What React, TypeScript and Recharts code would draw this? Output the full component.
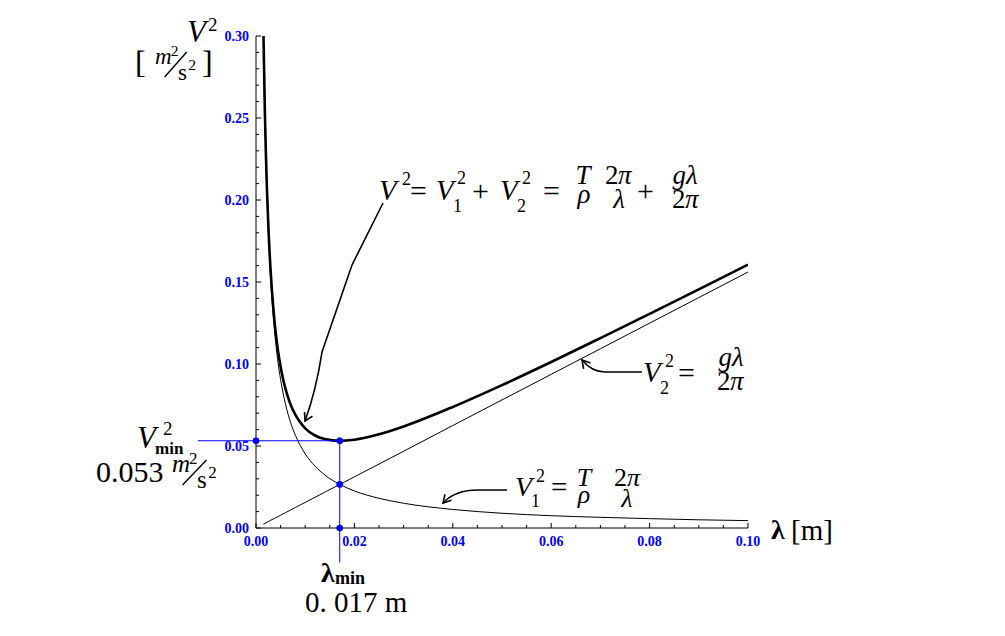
import React from 'react';
import {
  LineChart,
  Line,
  XAxis,
  YAxis,
  ReferenceLine,
  ReferenceDot,
  Customized,
} from 'recharts';

// wavelength samples [m]
const lambda = [
  0.0015, 0.0018, 0.002, 0.0025, 0.003, 0.0035, 0.004, 0.0045, 0.005, 0.0055, 0.006, 0.007,
  0.008, 0.009, 0.01, 0.012, 0.014, 0.017, 0.02, 0.025, 0.03, 0.04, 0.05, 0.06, 0.07, 0.08,
  0.09, 0.1,
];
// capillary part V1^2 [m^2/s^2]
const v1Sq = [
  0.3016, 0.2513, 0.2262, 0.181, 0.1508, 0.1293, 0.1131, 0.1005, 0.0905, 0.0823, 0.0754,
  0.0646, 0.0566, 0.0503, 0.0452, 0.0377, 0.0323, 0.0266, 0.0226, 0.0181, 0.0151, 0.0113,
  0.009, 0.0075, 0.0065, 0.0057, 0.005, 0.0045,
];
// gravity part V2^2
const v2Sq = [
  0.0023, 0.0028, 0.0031, 0.0039, 0.0047, 0.0055, 0.0062, 0.007, 0.0078, 0.0086, 0.0094,
  0.0109, 0.0125, 0.0141, 0.0156, 0.0187, 0.0219, 0.0265, 0.0312, 0.039, 0.0468, 0.0625,
  0.0781, 0.0937, 0.1093, 0.1249, 0.1405, 0.1561,
];
// total V^2
const vSq = [
  0.3039, 0.2541, 0.2293, 0.1849, 0.1555, 0.1348, 0.1193, 0.1075, 0.0983, 0.0909, 0.0848,
  0.0755, 0.0691, 0.0644, 0.0608, 0.0564, 0.0542, 0.0531, 0.0538, 0.0571, 0.0619, 0.0738,
  0.0871, 0.1012, 0.1158, 0.1306, 0.1455, 0.1606,
];

const xMajor = [0, 0.02, 0.04, 0.06, 0.08, 0.1];
const yMajor = [0, 0.05, 0.1, 0.15, 0.2, 0.25, 0.3];
const xMinorStep = 0.005;
const yMinorStep = 0.01;

const lamMin = 0.01702;
const vMin = 0.0532;
const vCross = 0.0266;

const rows = lambda.map((lam, i) => ({ lam, v1: v1Sq[i], v2: v2Sq[i], v: vSq[i] }));

const xTicks = Array.from({ length: 21 }, (_, i) => +(i * xMinorStep).toFixed(3));
const yTicks = Array.from({ length: 31 }, (_, i) => +(i * yMinorStep).toFixed(2));

const SERIF = '"Liberation Serif", "DejaVu Serif", serif';
const BLUE = '#0000ff';

// plot box, page pixels
const L = 256, R = 748, TOP = 36, BOT = 528;
const X_MAX = 0.1, Y_MAX = 0.3;
const px = (lam: number) => L + (lam / X_MAX) * (R - L);
const py = (v: number) => BOT - (v / Y_MAX) * (BOT - TOP);

const isIn = (list: number[], v: number) => list.some((m) => Math.abs(m - v) < 1e-6);

const XTick = (props: any) => {
  const { x, y, payload } = props;
  const major = isIn(xMajor, payload.value);
  return (
    <g>
      <line x1={x} x2={x} y1={y} y2={y - (major ? 5 : 3)} stroke="#000" />
      {major && (
        <text x={x} y={y + 18} textAnchor="middle" fill={BLUE} fontSize={14} fontWeight="bold" fontFamily={SERIF}>
          {payload.value.toFixed(2)}
        </text>
      )}
    </g>
  );
};

const YTick = (props: any) => {
  const { x, y, payload } = props;
  const major = isIn(yMajor, payload.value);
  return (
    <g>
      <line x1={x} x2={x + (major ? 5 : 3)} y1={y} y2={y} stroke="#000" />
      {major && (
        <text x={x - 7} y={y} dy="0.35em" textAnchor="end" fill={BLUE} fontSize={14} fontWeight="bold" fontFamily={SERIF}>
          {payload.value.toFixed(2)}
        </text>
      )}
    </g>
  );
};

// one formula = one <text>, each piece placed absolutely: [x, y, size, text, style?, anchor?]
// style: 'i' italic, 'b' bold
type Piece = [number, number, number, string, string?, string?];

const Formula = ({ parts }: { parts: Piece[] }) => (
  <text fontFamily={SERIF} fill="#000">
    {parts.map(([x, y, s, t, st = '', a = 'start'], k) => (
      <tspan
        key={k}
        x={x}
        y={y}
        fontSize={s}
        fontStyle={st.includes('i') ? 'italic' : 'normal'}
        fontWeight={st.includes('b') ? 'bold' : 'normal'}
        textAnchor={a}
      >
        {t}
      </tspan>
    ))}
  </text>
);

// pointer with a curved shaft ending in an open arrowhead; offsets are relative to the tip
const Arrow = ({ lam, v, shaft, barbs }: { lam: number; v: number; shaft: string; barbs: number[][] }) => (
  <g transform={`translate(${px(lam)},${py(v)})`} fill="none" stroke="#000" strokeWidth={1.6}>
    <path d={shaft} />
    <path d={`M${barbs[0][0]},${barbs[0][1]} L0,0 L${barbs[1][0]},${barbs[1][1]}`} />
  </g>
);

// m^2/s^2 with a slanted bar
const unitParts = (x: number, y: number, s: number): Piece[] => [
  [x, y - 10, s, 'm', 'i'],
  [x + s * 0.68, y - 18, s * 0.68, '2'],
  [x + s * 1.0, y + 6, s, 's'],
  [x + s * 1.45, y - 4, s * 0.68, '2'],
];
const UnitBar = ({ x, y, s }: { x: number; y: number; s: number }) => (
  <line x1={x + s * 0.42} y1={y + 3} x2={x + s * 1.38} y2={y - 22} stroke="#000" strokeWidth={1.4} />
);

const axisTitle: Piece[] = [
  [187, 42, 31, 'V', 'i'],
  [208, 31, 19, '2'],
  [135, 73, 32, '['],
  ...unitParts(155, 74, 23),
  [202, 73, 32, ']'],
];

const lambdaTitle: Piece[] = [
  [771, 539, 28, 'λ', 'b'],
  [791, 540, 29, '[m]'],
];

const totalFormula: Piece[] = [
  [379, 200, 29, 'V', 'i'],
  [402, 185, 18, '2'],
  [410, 201, 30, '='],
  [436, 200, 29, 'V', 'i'],
  [453, 212, 18, '1'],
  [457, 184, 18, '2'],
  [472, 201, 30, '+'],
  [500, 200, 29, 'V', 'i'],
  [517, 212, 18, '2'],
  [522, 184, 18, '2'],
  [543, 201, 30, '='],
  [583, 184, 27, 'T', 'i', 'middle'],
  [584, 203, 27, 'ρ', 'i', 'middle'],
  [605, 184, 27, '2'],
  [618, 184, 27, 'π', 'i'],
  [619, 208, 27, 'λ', 'i', 'middle'],
  [637, 201, 30, '+'],
  [685, 184, 27, 'gλ', 'i', 'middle'],
  [672, 208, 27, '2'],
  [685, 208, 27, 'π', 'i'],
];

const gravityFormula: Piece[] = [
  [643, 382, 29, 'V', 'i'],
  [660, 394, 18, '2'],
  [665, 367, 18, '2'],
  [678, 383, 30, '='],
  [731, 366, 27, 'gλ', 'i', 'middle'],
  [717, 390, 27, '2'],
  [730, 390, 27, 'π', 'i'],
];

const capillaryFormula: Piece[] = [
  [515, 496, 28, 'V', 'i'],
  [531, 507, 18, '1'],
  [536, 482, 18, '2'],
  [551, 497, 29, '='],
  [584, 486, 26, 'T', 'i', 'middle'],
  [584, 503, 26, 'ρ', 'i', 'middle'],
  [614, 486, 26, '2'],
  [627, 486, 26, 'π', 'i'],
  [627, 507, 26, 'λ', 'i', 'middle'],
];

const minSpeed: Piece[] = [
  [137, 448, 31, 'V', 'i'],
  [163, 435, 19, '2'],
  [155, 454, 17, 'min', 'b'],
  [96, 482, 30, '0.053'],
  ...unitParts(172, 482, 25),
];

const minLambda: Piece[] = [
  [321, 582, 28, 'λ', 'b'],
  [335, 584, 18, 'min', 'b'],
  [305, 612, 29, '0. 017 m'],
];

const Annotations = () => (
  <g>
    <Formula parts={axisTitle} />
    <UnitBar x={155} y={74} s={23} />
    <Formula parts={lambdaTitle} />
    <Formula parts={totalFormula} />
    <Formula parts={gravityFormula} />
    <Formula parts={capillaryFormula} />
    <Formula parts={minSpeed} />
    <UnitBar x={172} y={482} s={25} />
    <Formula parts={minLambda} />

    <Arrow lam={0.00996} v={0.06524} shaft="M78,-218 L47,-156 L17,-69 Q11,-30 0,0" barbs={[[7.5, -4.9], [-0.5, -9]]} />
    <Arrow lam={0.06626} v={0.10244} shaft="M60,12 L23,12 Q10,12 0,0" barbs={[[8.5, 3.1], [1.6, 8.9]]} />
    <Arrow lam={0.03801} v={0.01524} shaft="M64,-13 L35,-13 Q12,-13 0,0" barbs={[[8.6, -2.7], [2, -8.8]]} />
  </g>
);

export default function App() {
  return (
    <div style={{ margin: -8, width: 1005, height: 636, background: '#fff' }}>
      <LineChart width={1005} height={636} data={rows} margin={{ top: TOP, right: 1005 - R, bottom: 636 - BOT - 30, left: L - 50 }}>
        <XAxis
          type="number"
          dataKey="lam"
          domain={[0, X_MAX]}
          allowDataOverflow
          ticks={xTicks}
          interval={0}
          tick={<XTick />}
          tickLine={false}
          tickSize={0}
          tickMargin={0}
          height={30}
          axisLine={{ stroke: '#000' }}
        />
        <YAxis
          type="number"
          domain={[0, Y_MAX]}
          allowDataOverflow
          ticks={yTicks}
          interval={0}
          tick={<YTick />}
          tickLine={false}
          tickSize={0}
          tickMargin={0}
          width={50}
          axisLine={{ stroke: '#000' }}
        />
        <Line type="monotone" dataKey="v1" stroke="#000" strokeWidth={1} dot={false} isAnimationActive={false} />
        <Line type="linear" dataKey="v2" stroke="#000" strokeWidth={1} dot={false} isAnimationActive={false} />
        <Line type="monotone" dataKey="v" stroke="#000" strokeWidth={2.6} dot={false} isAnimationActive={false} />
        <ReferenceLine
          segment={[{ x: -0.0118, y: vMin }, { x: lamMin, y: vMin }]}
          stroke={BLUE}
          strokeWidth={1}
          ifOverflow="visible"
        />
        <ReferenceLine
          segment={[{ x: lamMin, y: vMin }, { x: lamMin, y: -0.021 }]}
          stroke={BLUE}
          strokeWidth={1}
          ifOverflow="visible"
        />
        <ReferenceDot x={0} y={vMin} r={3} fill={BLUE} stroke={BLUE} ifOverflow="visible" />
        <ReferenceDot x={lamMin} y={vMin} r={3} fill={BLUE} stroke={BLUE} ifOverflow="visible" />
        <ReferenceDot x={lamMin} y={vCross} r={3} fill={BLUE} stroke={BLUE} ifOverflow="visible" />
        <ReferenceDot x={lamMin} y={0} r={3} fill={BLUE} stroke={BLUE} ifOverflow="visible" />
        <Customized component={Annotations} />
      </LineChart>
    </div>
  );
}
